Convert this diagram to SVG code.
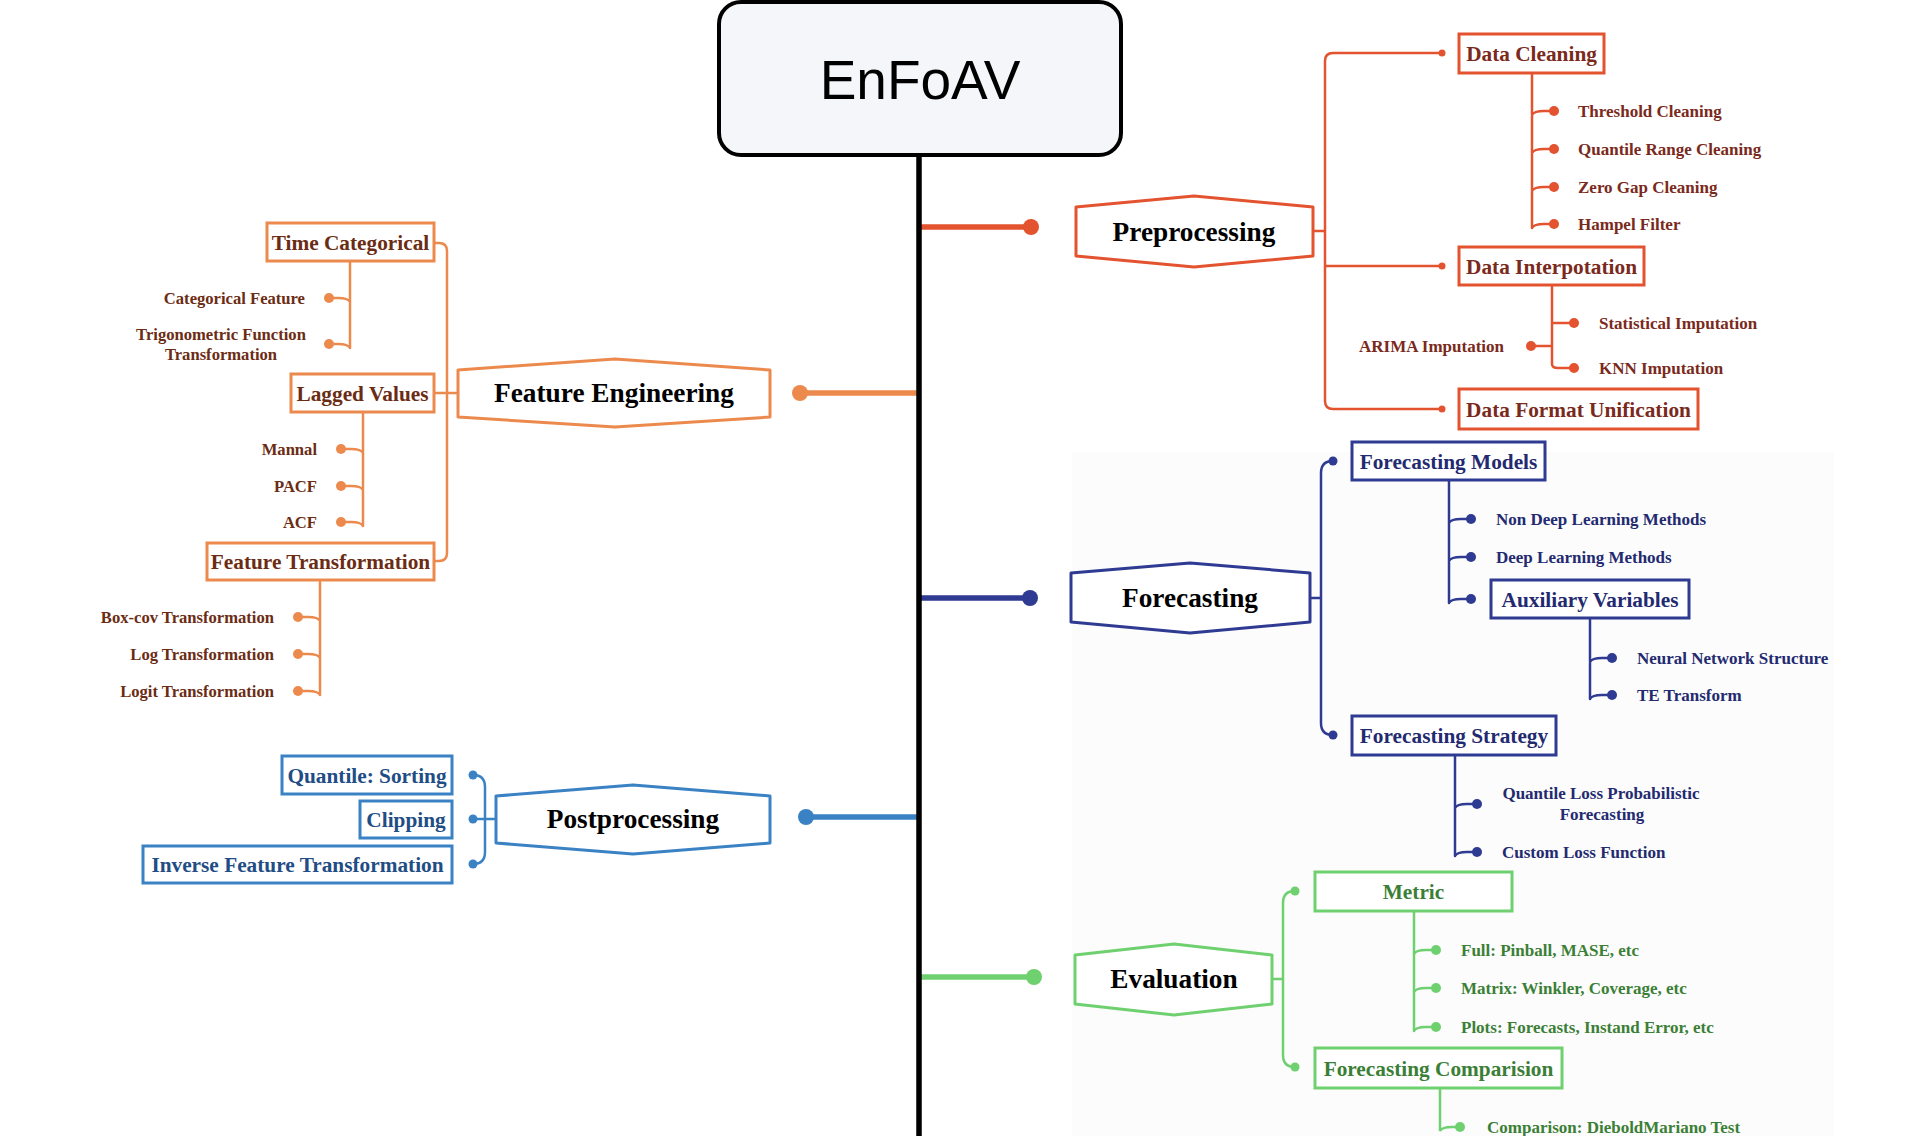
<svg xmlns="http://www.w3.org/2000/svg" width="1920" height="1136" viewBox="0 0 1920 1136">
<style>
text{font-family:"Liberation Serif","Times New Roman",serif;font-weight:bold}
.hex{fill:#fff;stroke-width:3;stroke-linejoin:round}
.box{fill:#fff;stroke-width:3}
.ln{fill:none;stroke-width:2.5;stroke-linecap:round}
.main{stroke-width:5.5;fill:none}
.ht{font-size:27.3px;fill:#000;text-anchor:middle}
.bt{font-size:21.3px;text-anchor:middle}
.lt{font-size:17px}
.ll{font-size:16.6px}
.r{stroke:#e3532f}.rf{fill:#e3532f}.rt{fill:#7a2a1c}
.o{stroke:#ec8a4e}.of{fill:#ec8a4e}.ot{fill:#6b2c14}
.b{stroke:#3b82c4}.bf{fill:#3b82c4}.btx{fill:#1f4d85}
.n{stroke:#2f3a92}.nf{fill:#2f3a92}.nt{fill:#232a70}
.g{stroke:#6fd06f}.gf{fill:#6fd06f}.gt{fill:#3b7f36}
</style>
<rect x="0" y="0" width="1920" height="1136" fill="#ffffff"/>
<rect x="1072" y="452" width="762" height="684" fill="#fcfcfc"/>

<g id="connectors">
  <line class="main r" x1="919" y1="227" x2="1031" y2="227"/>
  <circle class="rf" cx="1031" cy="227" r="8"/>
  <line class="main o" x1="919" y1="393" x2="800" y2="393"/>
  <circle class="of" cx="800" cy="393" r="8"/>
  <line class="main b" x1="919" y1="817" x2="806" y2="817"/>
  <circle class="bf" cx="806" cy="817" r="8"/>
  <line class="main n" x1="919" y1="598" x2="1030" y2="598"/>
  <circle class="nf" cx="1030" cy="598" r="8"/>
  <line class="main g" x1="919" y1="977" x2="1034" y2="977"/>
  <circle class="gf" cx="1034" cy="977" r="8"/>

  <path class="ln r" d="M1313 231 L1325 231 M1442 53 L1333 53 Q1325 53 1325 61 L1325 401 Q1325 409 1333 409 L1442 409 M1325 266 L1442 266"/>
  <circle class="rf" cx="1442" cy="53" r="3.5"/>
  <circle class="rf" cx="1442" cy="266" r="3.5"/>
  <circle class="rf" cx="1442" cy="409" r="3.5"/>
  <path class="ln r" d="M1532 73 L1532 228 M1532 115 Q1534 111 1544 111 L1554 111 M1532 153 Q1534 149 1544 149 L1554 149 M1532 191 Q1534 187 1544 187 L1554 187 M1532 228 Q1534 224 1544 224 L1554 224"/>
  <circle class="rf" cx="1554" cy="111" r="5"/>
  <circle class="rf" cx="1554" cy="149" r="5"/>
  <circle class="rf" cx="1554" cy="187" r="5"/>
  <circle class="rf" cx="1554" cy="224" r="5"/>
  <path class="ln r" d="M1552 285 L1552 364 Q1552 368 1558 368 L1574 368 M1552 323 L1574 323 M1552 346 L1531 346"/>
  <circle class="rf" cx="1574" cy="323" r="5"/>
  <circle class="rf" cx="1574" cy="368" r="5"/>
  <circle class="rf" cx="1531" cy="346" r="5"/>

  <path class="ln o" d="M434 243 L439 243 Q447 243 447 251 L447 553 Q447 561 439 561 L434 561 M434 393 L458 393"/>
  <path class="ln o" d="M350 261 L350 348 M350 302 Q348 298 338 298 L329 298 M350 348 Q348 344 338 344 L329 344"/>
  <circle class="of" cx="329" cy="298" r="5"/>
  <circle class="of" cx="329" cy="344" r="5"/>
  <path class="ln o" d="M363 412 L363 526 M363 453 Q361 449 351 449 L341 449 M363 490 Q361 486 351 486 L341 486 M363 526 Q361 522 351 522 L341 522"/>
  <circle class="of" cx="341" cy="449" r="5"/>
  <circle class="of" cx="341" cy="486" r="5"/>
  <circle class="of" cx="341" cy="522" r="5"/>
  <path class="ln o" d="M320 580 L320 695 M320 621 Q318 617 308 617 L298 617 M320 658 Q318 654 308 654 L298 654 M320 695 Q318 691 308 691 L298 691"/>
  <circle class="of" cx="298" cy="617" r="5"/>
  <circle class="of" cx="298" cy="654" r="5"/>
  <circle class="of" cx="298" cy="691" r="5"/>

  <path class="ln b" d="M473 775 Q485 775 485 787 L485 852 Q485 864 473 864 M473 819 L496 819"/>
  <circle class="bf" cx="473" cy="775" r="4.5"/>
  <circle class="bf" cx="473" cy="819" r="4.5"/>
  <circle class="bf" cx="473" cy="864" r="4.5"/>

  <path class="ln n" d="M1333 461 Q1321 461 1321 473 L1321 723 Q1321 735 1333 735 M1310 598 L1321 598"/>
  <circle class="nf" cx="1333" cy="461" r="4.5"/>
  <circle class="nf" cx="1333" cy="735" r="4.5"/>
  <path class="ln n" d="M1449 480 L1449 603 M1449 523 Q1451 519 1461 519 L1471 519 M1449 561 Q1451 557 1461 557 L1471 557 M1449 603 Q1451 599 1461 599 L1471 599"/>
  <circle class="nf" cx="1471" cy="519" r="5"/>
  <circle class="nf" cx="1471" cy="557" r="5"/>
  <circle class="nf" cx="1471" cy="599" r="5"/>
  <path class="ln n" d="M1590 618 L1590 699 M1590 662 Q1592 658 1602 658 L1612 658 M1590 699 Q1592 695 1602 695 L1612 695"/>
  <circle class="nf" cx="1612" cy="658" r="5"/>
  <circle class="nf" cx="1612" cy="695" r="5"/>
  <path class="ln n" d="M1455 755 L1455 856 M1455 808 Q1457 804 1467 804 L1477 804 M1455 856 Q1457 852 1467 852 L1477 852"/>
  <circle class="nf" cx="1477" cy="804" r="5"/>
  <circle class="nf" cx="1477" cy="852" r="5"/>

  <path class="ln g" d="M1295 891 Q1283 891 1283 903 L1283 1055 Q1283 1067 1295 1067 M1272 979 L1283 979"/>
  <circle class="gf" cx="1295" cy="891" r="4.5"/>
  <circle class="gf" cx="1295" cy="1067" r="4.5"/>
  <path class="ln g" d="M1414 911 L1414 1031 M1414 954 Q1416 950 1426 950 L1436 950 M1414 992 Q1416 988 1426 988 L1436 988 M1414 1031 Q1416 1027 1426 1027 L1436 1027"/>
  <circle class="gf" cx="1436" cy="950" r="5"/>
  <circle class="gf" cx="1436" cy="988" r="5"/>
  <circle class="gf" cx="1436" cy="1027" r="5"/>
  <path class="ln g" d="M1440 1088 L1440 1131 Q1442 1127 1452 1127 L1460 1127"/>
  <circle class="gf" cx="1460" cy="1127" r="5"/>

  <line x1="919" y1="155" x2="919" y2="1136" stroke="#000" stroke-width="5.5"/>
</g>

<g id="root">
  <rect x="719" y="2" width="402" height="153" rx="22" fill="#f5f6fa" stroke="#000" stroke-width="4"/>
  <text x="920" y="99" font-size="55" text-anchor="middle" fill="#000" style="font-family:'Liberation Sans',Arial,sans-serif;font-weight:normal">EnFoAV</text>
</g>

<g id="preprocessing">
  <polygon class="hex r" points="1076,207 1194,196 1313,207 1313,256 1194,267 1076,256"/>
  <text class="ht" x="1194" y="241">Preprocessing</text>
</g>
<g id="data-cleaning">
  <rect class="box r" x="1459" y="34" width="145" height="39"/>
  <text class="bt rt" x="1531.5" y="61">Data Cleaning</text>
</g>
<g id="threshold-cleaning"><text class="lt rt" x="1578" y="116.5">Threshold Cleaning</text></g>
<g id="quantile-range-cleaning"><text class="lt rt" x="1578" y="154.5">Quantile Range Cleaning</text></g>
<g id="zero-gap-cleaning"><text class="lt rt" x="1578" y="192.5">Zero Gap Cleaning</text></g>
<g id="hampel-filter"><text class="lt rt" x="1578" y="229.5">Hampel Filter</text></g>
<g id="data-interpotation">
  <rect class="box r" x="1459" y="247" width="185" height="38"/>
  <text class="bt rt" x="1551.5" y="273.5">Data Interpotation</text>
</g>
<g id="statistical-imputation"><text class="lt rt" x="1599" y="328.5">Statistical Imputation</text></g>
<g id="knn-imputation"><text class="lt rt" x="1599" y="373.5">KNN Imputation</text></g>
<g id="arima-imputation"><text class="lt rt" x="1504" y="351.5" text-anchor="end">ARIMA Imputation</text></g>
<g id="data-format-unification">
  <rect class="box r" x="1459" y="389" width="239" height="40"/>
  <text class="bt rt" x="1578.5" y="416.5">Data Format Unification</text>
</g>

<g id="feature-engineering">
  <polygon class="hex o" points="458,370 615,359 770,370 770,417 615,427 458,417"/>
  <text class="ht" x="614" y="402">Feature Engineering</text>
</g>
<g id="time-categorical">
  <rect class="box o" x="267" y="223" width="167" height="38"/>
  <text class="bt ot" x="350.5" y="249.5">Time Categorical</text>
</g>
<g id="categorical-feature"><text class="ll ot" x="305" y="303.5" text-anchor="end">Categorical Feature</text></g>
<g id="trigonometric-function-transformation"><text class="ll ot" x="221" y="340" text-anchor="middle">Trigonometric Function</text><text class="ll ot" x="221" y="360" text-anchor="middle">Transformation</text></g>
<g id="lagged-values">
  <rect class="box o" x="291" y="374" width="143" height="38"/>
  <text class="bt ot" x="362.5" y="400.5">Lagged Values</text>
</g>
<g id="mannal"><text class="ll ot" x="317" y="454.5" text-anchor="end">Mannal</text></g>
<g id="pacf"><text class="ll ot" x="317" y="491.5" text-anchor="end">PACF</text></g>
<g id="acf"><text class="ll ot" x="317" y="527.5" text-anchor="end">ACF</text></g>
<g id="feature-transformation">
  <rect class="box o" x="207" y="543" width="227" height="37"/>
  <text class="bt ot" x="320.5" y="569">Feature Transformation</text>
</g>
<g id="box-cov-transformation"><text class="ll ot" x="274" y="622.5" text-anchor="end">Box-cov Transformation</text></g>
<g id="log-transformation"><text class="ll ot" x="274" y="659.5" text-anchor="end">Log Transformation</text></g>
<g id="logit-transformation"><text class="ll ot" x="274" y="696.5" text-anchor="end">Logit Transformation</text></g>

<g id="postprocessing">
  <polygon class="hex b" points="496,796 633,785 770,796 770,843 633,854 496,843"/>
  <text class="ht" x="633" y="828">Postprocessing</text>
</g>
<g id="quantile-sorting">
  <rect class="box b" x="282" y="756" width="170" height="38"/>
  <text class="bt btx" x="367" y="782.5">Quantile: Sorting</text>
</g>
<g id="clipping">
  <rect class="box b" x="360" y="801" width="92" height="37"/>
  <text class="bt btx" x="406" y="827">Clipping</text>
</g>
<g id="inverse-feature-transformation">
  <rect class="box b" x="143" y="846" width="309" height="37"/>
  <text class="bt btx" x="297.5" y="872">Inverse Feature Transformation</text>
</g>

<g id="forecasting">
  <polygon class="hex n" points="1071,573 1190,563 1310,573 1310,622 1190,633 1071,622"/>
  <text class="ht" x="1190" y="607">Forecasting</text>
</g>
<g id="forecasting-models">
  <rect class="box n" x="1352" y="442" width="193" height="38"/>
  <text class="bt nt" x="1448.5" y="468.5">Forecasting Models</text>
</g>
<g id="non-deep-learning-methods"><text class="lt nt" x="1496" y="524.5">Non Deep Learning Methods</text></g>
<g id="deep-learning-methods"><text class="lt nt" x="1496" y="562.5">Deep Learning Methods</text></g>
<g id="auxiliary-variables">
  <rect class="box n" x="1491" y="580" width="198" height="38"/>
  <text class="bt nt" x="1590" y="606.5">Auxiliary Variables</text>
</g>
<g id="neural-network-structure"><text class="lt nt" x="1637" y="663.5">Neural Network Structure</text></g>
<g id="te-transform"><text class="lt nt" x="1637" y="700.5">TE Transform</text></g>
<g id="forecasting-strategy">
  <rect class="box n" x="1352" y="716" width="204" height="39"/>
  <text class="bt nt" x="1454" y="743">Forecasting Strategy</text>
</g>
<g id="quantile-loss-probabilistic-forecasting"><text class="lt nt" x="1601" y="799" text-anchor="middle">Quantile Loss Probabilistic</text><text class="lt nt" x="1602" y="820" text-anchor="middle">Forecasting</text></g>
<g id="custom-loss-function"><text class="lt nt" x="1502" y="857.5">Custom Loss Function</text></g>

<g id="evaluation">
  <polygon class="hex g" points="1075,955 1174,944 1272,955 1272,1004 1174,1015 1075,1004"/>
  <text class="ht" x="1174" y="988">Evaluation</text>
</g>
<g id="metric">
  <rect class="box g" x="1315" y="872" width="197" height="39"/>
  <text class="bt gt" x="1413.5" y="899">Metric</text>
</g>
<g id="full"><text class="lt gt" x="1461" y="955.5">Full: Pinball, MASE, etc</text></g>
<g id="matrix"><text class="lt gt" x="1461" y="993.5">Matrix: Winkler, Coverage, etc</text></g>
<g id="plots"><text class="lt gt" x="1461" y="1032.5">Plots: Forecasts, Instand Error, etc</text></g>
<g id="forecasting-comparision">
  <rect class="box g" x="1315" y="1048" width="247" height="40"/>
  <text class="bt gt" x="1438.5" y="1075.5">Forecasting Comparision</text>
</g>
<g id="comparison-dm"><text class="lt gt" x="1487" y="1132.5">Comparison: DieboldMariano Test</text></g>
</svg>
